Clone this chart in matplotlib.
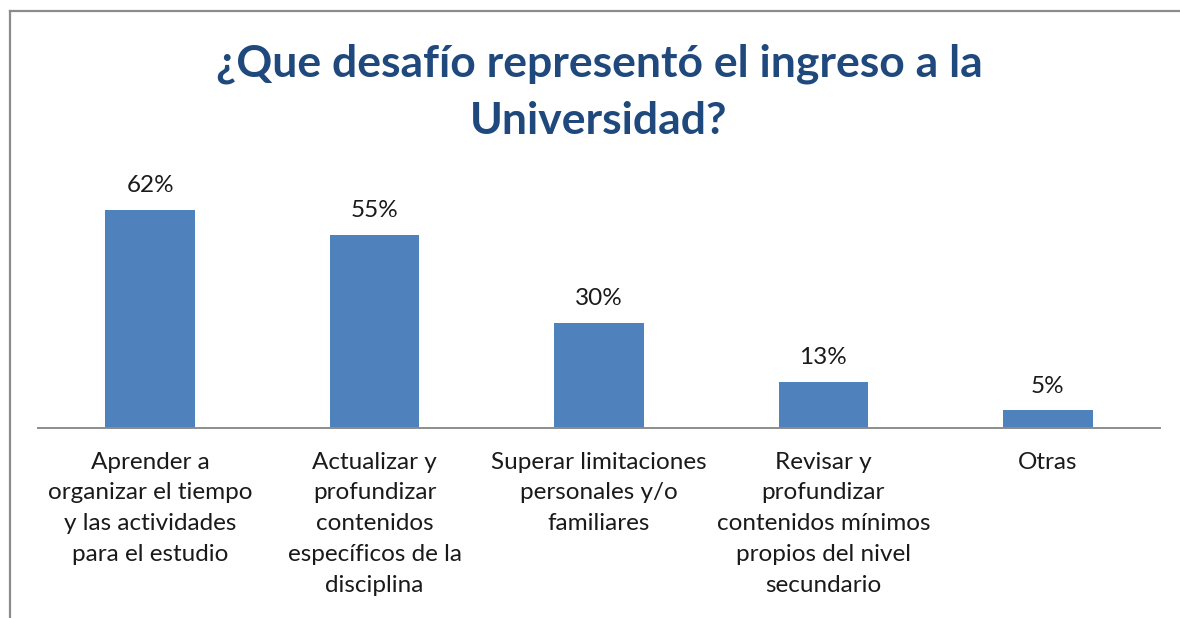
import matplotlib
matplotlib.use("Agg")
import matplotlib.pyplot as plt
from matplotlib.lines import Line2D

# Datos
categorias = [
    "Aprender a\norganizar el tiempo\ny las actividades\npara el estudio",
    "Actualizar y\nprofundizar\ncontenidos\nespecíficos de la\ndisciplina",
    "Superar limitaciones\npersonales y/o\nfamiliares",
    "Revisar y\nprofundizar\ncontenidos mínimos\npropios del nivel\nsecundario",
    "Otras",
]
porcentajes = [62, 55, 30, 13, 5]
etiquetas = ["62%", "55%", "30%", "13%", "5%"]

titulo = "¿Que desafío representó el ingreso a la\nUniversidad?"

W, H = 1180, 618
plt.rcParams['font.family'] = ['Lato', 'DejaVu Sans']

fig = plt.figure(figsize=(W / 100, H / 100), dpi=100)

# marco del gráfico (solo se ven los bordes izquierdo y superior)
fig.add_artist(Line2D([10 / W, 10 / W], [0, 1 - 11 / H], color="#8c8c8c", lw=1.6))
fig.add_artist(Line2D([10 / W, 1], [1 - 11 / H, 1 - 11 / H], color="#8c8c8c", lw=1.6))

# ejes en coordenadas de pixel
x0, x1 = 38, 1160
y_base, y_top = 428, 182
ax = fig.add_axes([x0 / W, 1 - y_base / H, (x1 - x0) / W, (y_base - y_top) / H])

pos = list(range(len(categorias)))
barras = ax.bar(pos, porcentajes, width=0.40, color="#4F81BD")
ax.bar_label(barras, labels=etiquetas, padding=10, fontsize=17.5, color="#1a1a1a")

ax.set_xlim(-0.5, len(categorias) - 0.5)
ax.set_ylim(0, 70)
ax.set_xticks(pos)
ax.set_xticklabels(categorias, fontsize=17.5, color="#1a1a1a", linespacing=1.58)
ax.tick_params(axis="x", length=0, pad=17)
ax.set_yticks([])
for lado in ["left", "right", "top"]:
    ax.spines[lado].set_visible(False)
ax.spines["bottom"].set_color("#8c8c8c")
ax.spines["bottom"].set_linewidth(1.4)

fig.text(599 / W, 1 - 92 / H, titulo, ha="center", va="center",
         fontsize=32, fontweight="bold", color="#1F497D", linespacing=1.5)

fig.savefig("out.png", dpi=100)
